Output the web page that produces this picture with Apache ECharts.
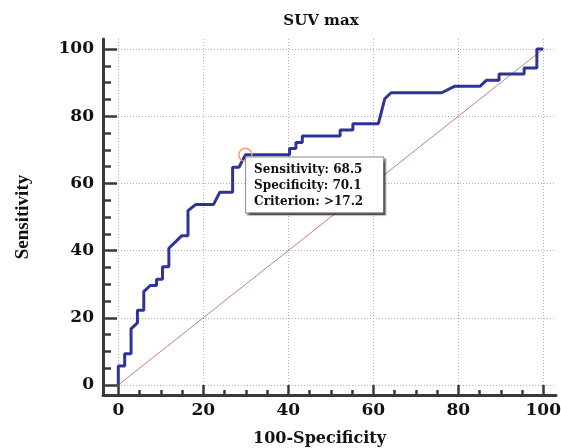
<!DOCTYPE html>
<html>
<head>
<meta charset="utf-8">
<script src="https://cdn.jsdelivr.net/npm/echarts@6/dist/echarts.min.js"></script>
<style>
  html, body { margin: 0; padding: 0; background: #ffffff; }
  #chart { width: 561px; height: 448px; }
</style>
</head>
<body>
<div id="chart"></div>
<script>
// ROC curve for SUV max
const titleText = 'SUV max';
const xName = '100-Specificity';
const yName = 'Sensitivity';

// Curve vertices: 100-Specificity (x) and Sensitivity (y), in %
const falsePositive = [0, 0, 1.5, 1.5, 3.0, 3.0, 4.5, 4.5, 6.0, 6.0, 7.5, 9.0, 9.0, 10.4, 10.4, 11.9, 11.9, 14.9, 16.4, 16.4, 18.2, 22.4, 23.9, 26.9, 26.9, 28.4, 29.9, 40.3, 40.3, 41.8, 41.8, 43.3, 43.3, 52.2, 52.2, 55.2, 55.2, 61.2, 62.7, 64.2, 76.1, 79.1, 85.1, 86.6, 89.6, 89.6, 95.5, 95.5, 98.5, 98.5, 100];
const sensitivity   = [0, 5.6, 5.6, 9.3, 9.3, 16.7, 18.5, 22.2, 22.2, 27.8, 29.6, 29.6, 31.5, 31.5, 35.2, 35.2, 40.7, 44.4, 44.4, 51.9, 53.7, 53.7, 57.4, 57.4, 64.8, 64.8, 68.5, 68.5, 70.4, 70.4, 72.2, 72.2, 74.1, 74.1, 75.9, 75.9, 77.8, 77.8, 85.2, 87.0, 87.0, 88.9, 88.9, 90.7, 90.7, 92.6, 92.6, 94.4, 94.4, 100, 100];

// Chance line
const chanceX = [0, 100];
const chanceY = [0, 100];

// Optimal cut-off point
const cutSensitivity = 68.5;
const cutSpecificity = 70.1;
const cutCriterion = '>17.2';

// Axis ticks
const majorTicks = [0, 20, 40, 60, 80, 100];
const minorTicks = [5, 10, 15, 25, 30, 35, 45, 50, 55, 65, 70, 75, 85, 90, 95];

const serif = 'DejaVu Serif';
const axisColor = '#3a3a3a';
const xMin = -3.6, xMax = 103;
const yMin = -3, yMax = 103;

const curveData = falsePositive.map((x, i) => [x, sensitivity[i]]);
const chanceData = chanceX.map((x, i) => [x, chanceY[i]]);

function majorAxis(dim) {
  const isX = dim === 'x';
  return {
    type: 'value',
    position: isX ? 'bottom' : 'left',
    min: isX ? xMin : yMin,
    max: isX ? xMax : yMax,
    name: isX ? xName : yName,
    nameLocation: 'middle',
    nameGap: isX ? 35 : 70,
    nameRotate: isX ? 0 : 90,
    nameTextStyle: isX
      ? { fontFamily: serif, fontWeight: 'bold', fontSize: 16, color: '#111', lineHeight: 18, padding: [0, 20, 0, 0] }
      : { fontFamily: 'Liberation Serif', fontWeight: 'bold', fontSize: 19, color: '#111', lineHeight: 20 },
    axisLine: { show: true, onZero: false, lineStyle: { color: axisColor, width: 3 } },
    axisTick: {
      show: true, inside: true, length: isX ? 10 : 14,
      customValues: majorTicks,
      lineStyle: { color: axisColor, width: 2.5 }
    },
    axisLabel: {
      show: true, customValues: majorTicks, margin: isX ? 7 : 9,
      fontFamily: serif, fontWeight: 'bold', fontSize: 17, color: '#111'
    },
    splitLine: { show: true, lineStyle: { color: '#b0b0b0', type: [1, 2], width: 1 } }
  };
}

function minorAxis(dim) {
  const isX = dim === 'x';
  return {
    type: 'value',
    position: isX ? 'bottom' : 'left',
    min: isX ? xMin : yMin,
    max: isX ? xMax : yMax,
    axisLine: { show: false, onZero: false },
    axisTick: {
      show: true, inside: true, length: isX ? 5 : 8,
      customValues: minorTicks,
      lineStyle: { color: axisColor, width: 2.5 }
    },
    axisLabel: { show: false },
    splitLine: { show: false }
  };
}

const chart = echarts.init(document.getElementById('chart'), null, { renderer: 'canvas' });
chart.setOption({
  animation: false,
  backgroundColor: '#ffffff',
  title: {
    text: titleText,
    left: 316,
    textAlign: 'center',
    top: 9,
    textStyle: { fontFamily: serif, fontWeight: 'bold', fontSize: 15, color: '#111' }
  },
  grid: { left: 103, right: 5, top: 39, bottom: 53, containLabel: false, outerBoundsMode: 'none' },
  xAxis: [majorAxis('x'), minorAxis('x')],
  yAxis: [majorAxis('y'), minorAxis('y')],
  series: [
    {
      type: 'line',
      data: chanceData,
      symbol: 'none',
      silent: true,
      z: 2,
      lineStyle: { color: '#c47f7f', width: 1 }
    },
    {
      type: 'line',
      data: curveData,
      symbol: 'none',
      silent: true,
      z: 3,
      lineStyle: { color: '#2f3296', width: 3 }
    },
    {
      type: 'scatter',
      data: [[100 - cutSpecificity, cutSensitivity]],
      symbol: 'circle',
      symbolSize: 13,
      z: 4,
      itemStyle: { color: 'rgba(255,255,255,0)', borderColor: '#f2a06a', borderWidth: 1.5, opacity: 1 },
      label: {
        show: true,
        position: [8, 10],
        formatter: () => [
          'Sensitivity: ' + cutSensitivity.toFixed(1),
          'Specificity: ' + cutSpecificity.toFixed(1),
          'Criterion: ' + cutCriterion
        ].join('\n'),
        fontFamily: serif,
        fontWeight: 'bold',
        fontSize: 12,
        lineHeight: 16,
        color: '#111',
        backgroundColor: '#ffffff',
        borderColor: '#8a8a8a',
        borderWidth: 1,
        padding: [4, 20, 3, 8],
        shadowColor: 'rgba(0,0,0,0.45)',
        shadowOffsetX: 2,
        shadowOffsetY: 2,
        shadowBlur: 1
      }
    }
  ]
});
</script>
</body>
</html>
